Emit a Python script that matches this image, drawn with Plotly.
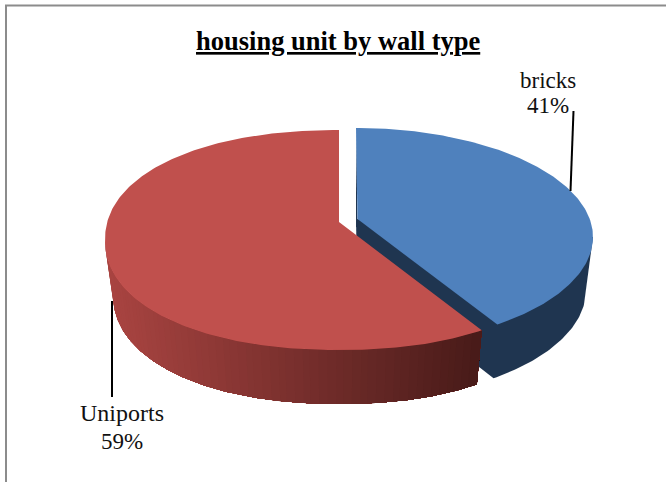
import numpy as np
import plotly.graph_objects as go

categories = ["bricks", "Uniports"]
values = [41.3, 58.7]
title_text = "housing unit by wall type"

RED_TOP = "#C0504D"
BLUE_TOP = "#4F81BD"
BLUE_SIDE = "#1F3550"
RED_L = np.array([168, 68, 65])
RED_R = np.array([72, 27, 25])

A = 0.164  # perspective offset of the pie centre inside the ellipse
split = values[1] / sum(values) * 360  # red sweeps counter-clockwise from 12 o'clock
end_deg = 360 - split
LEFT = 360 - np.degrees(np.arccos(-A))
RIGHT = np.degrees(np.arccos(-A))


def project(deg, cx, cy, rx, ry, n=2.0):
    t = np.radians(np.asarray(deg, dtype=float))
    x, y = np.sin(t), np.cos(t)
    d = 1 + A * y
    u, v = x * np.sqrt(1 - A * A) / d, (y + A) / d
    r = (np.abs(u) ** n + np.abs(v) ** n) ** (-1 / n)
    return cx + rx * u * r, cy - ry * v * r


def apex(cx, cy, ry):
    return cx, cy - ry * A


def poly(fig, xs, ys, color):
    fig.add_trace(go.Scatter(x=list(xs), y=list(ys), mode="lines", fill="toself",
                             fillcolor=color, line=dict(width=0, color=color),
                             hoverinfo="skip", showlegend=False))


R_TOP = dict(cx=339, cy=240, rx=234, ry=110, n=2.15)
R_BOT = dict(cx=339, cy=294, rx=226, ry=110, n=2.15)
B_TOP = dict(cx=356, cy=237, rx=237, ry=109)
B_BOT = dict(cx=357, cy=290, rx=229, ry=110)

fig = go.Figure()

# blue slice: side wall and cut face as one dark body, then the top
th = np.linspace(RIGHT, end_deg, 60)
tx, ty = project(th, **B_TOP)
bx, by = project(th, **B_BOT)
ax0, ay0 = apex(B_TOP["cx"], B_TOP["cy"], B_TOP["ry"])
ax1, ay1 = apex(B_BOT["cx"], B_BOT["cy"], B_BOT["ry"])
poly(fig, np.r_[tx[0], bx, ax1, ax0], np.r_[ty[0], by, ay1, ay0], BLUE_SIDE)
sx, sy = project(0, **B_TOP)
poly(fig, [sx, ax0 + 1.5, ax0 + 1.5, ax0], [sy, ay0, ay0 + 8, ay0 + 8], BLUE_SIDE)
th = np.linspace(0, end_deg, 160)
tx, ty = project(th, **B_TOP)
poly(fig, np.r_[ax0 + 1.5, tx], np.r_[ay0, ty], BLUE_TOP)

# red slice: graded side wall, then top
th = np.linspace(LEFT, end_deg, 240)
n = 64
for i in range(n):
    start = int(i * (len(th) - 2) / n)
    seg = th[start:]
    tx, ty = project(seg, **R_TOP)
    bx, by = project(seg, **R_BOT)
    f = (tx[0] - 112) / (478 - 112)
    c = (RED_L + (RED_R - RED_L) * np.clip(f, 0, 1)).astype(int)
    poly(fig, np.r_[tx, bx[::-1]], np.r_[ty, by[::-1]], f"rgb({c[0]},{c[1]},{c[2]})")
th = np.linspace(end_deg, 360, 240)
tx, ty = project(th, **R_TOP)
ax, ay = apex(R_TOP["cx"], R_TOP["cy"], R_TOP["ry"])
poly(fig, np.r_[ax, tx], np.r_[ay, ty], RED_TOP)

# leader lines
fig.add_trace(go.Scatter(x=[573.5, 570.5], y=[111, 191], mode="lines",
                         line=dict(color="black", width=2), hoverinfo="skip", showlegend=False))
fig.add_trace(go.Scatter(x=[112, 112], y=[301, 397], mode="lines",
                         line=dict(color="black", width=2), hoverinfo="skip", showlegend=False))
# frame
fig.add_trace(go.Scatter(x=[6, 6, 666], y=[482, 5.5, 5.5], mode="lines",
                         line=dict(color="#8C8C8C", width=2), hoverinfo="skip", showlegend=False))

SERIF = "Liberation Serif"
anns = [
    dict(x=338, y=41, text=f"<b><u>{title_text}</u></b>", font=dict(family=SERIF, size=26.5, color="black")),
    dict(x=548, y=80, text=categories[0], font=dict(family=SERIF, size=23, color="#111")),
    dict(x=548, y=105, text=f"{round(values[0])}%", font=dict(family=SERIF, size=23, color="#111")),
    dict(x=122, y=413, text=categories[1], font=dict(family=SERIF, size=24, color="#111")),
    dict(x=122, y=441, text=f"{round(values[1])}%", font=dict(family=SERIF, size=23, color="#111")),
]
for a in anns:
    fig.add_annotation(xref="x", yref="y", showarrow=False, xanchor="center", yanchor="middle", **a)

fig.update_xaxes(range=[0, 666], visible=False, fixedrange=True)
fig.update_yaxes(range=[482, 0], visible=False, fixedrange=True)
fig.update_layout(width=666, height=482, margin=dict(l=0, r=0, t=0, b=0),
                  paper_bgcolor="white", plot_bgcolor="white", showlegend=False)
fig.write_html("out.html", config={"displayModeBar": False},
               post_script="document.body.style.margin='0';document.body.style.overflow='hidden';")
